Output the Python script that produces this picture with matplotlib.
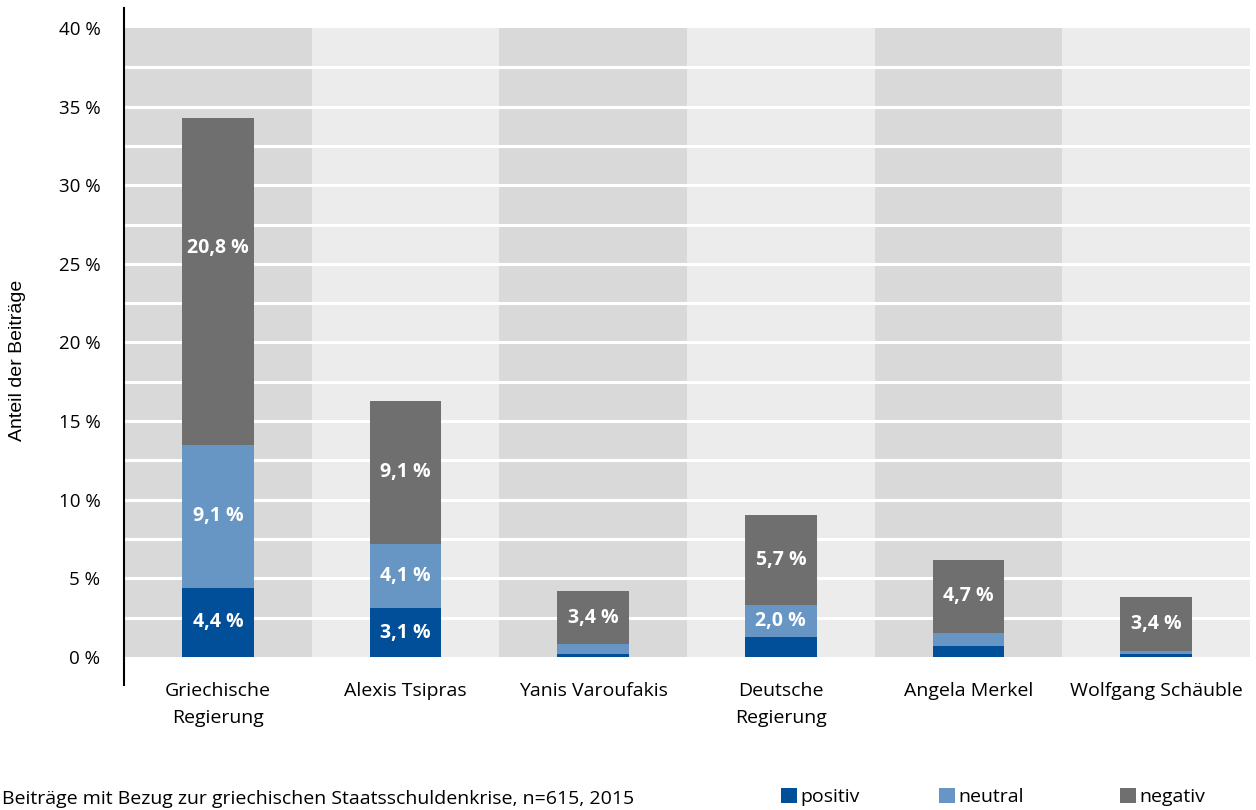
import matplotlib
matplotlib.use("Agg")
import matplotlib.pyplot as plt
import numpy as np

plt.rcParams['font.family'] = ['Open Sans', 'DejaVu Sans']

categories = ["Griechische\nRegierung", "Alexis Tsipras", "Yanis Varoufakis",
              "Deutsche\nRegierung", "Angela Merkel", "Wolfgang Schäuble"]
positiv = [4.4, 3.1, 0.2, 1.3, 0.7, 0.2]
neutral = [9.1, 4.1, 0.6, 2.0, 0.8, 0.2]
negativ = [20.8, 9.1, 3.4, 5.7, 4.7, 3.4]
series_names = ["positiv", "neutral", "negativ"]
series_colors = ["#004f98", "#6796c4", "#6f6f6f"]
yticks = [0, 5, 10, 15, 20, 25, 30, 35, 40]

fig = plt.figure(figsize=(12.56, 8.10), dpi=100)
ax = fig.add_axes([124/1256, 1 - 685/810, 1126/1256, 677/810])

x = np.arange(len(categories))
# alternating background bands
band_colors = ["#d9d9d9" if i % 2 == 0 else "#ececec" for i in x]
ax.bar(x, 40, width=1.0, bottom=0, color=band_colors, zorder=0)
ax.hlines(np.arange(2.5, 40, 2.5), -0.5, len(categories) - 0.5,
          colors="white", linewidth=2.2, zorder=1)

bars = []
bottom = np.zeros(len(categories))
for vals, name, col in zip([positiv, neutral, negativ], series_names, series_colors):
    vals = np.array(vals)
    bars.append(ax.bar(x, vals, width=0.383, bottom=bottom, color=col, zorder=2, label=name))
    for xi, b, v in zip(x, bottom, vals):
        if v >= 2.0:
            # the tall segment's label sits a bit above its middle
            ypos = b + v / 2 if v < 15 else b + v * 0.6
            ax.text(xi, ypos, f"{v:.1f}".replace(".", ",") + " %",
                    ha="center", va="center", color="white", fontsize=14,
                    fontweight="bold", zorder=3)
    bottom += vals

ax.set_xlim(-0.5, len(categories) - 0.5)
ax.set_ylim(-1.78, 41.27)
ax.set_yticks(yticks)
ax.set_yticklabels([f"{t} %" for t in yticks], fontsize=13.5)
ax.set_xticks(x)
ax.set_xticklabels(categories, fontsize=14, linespacing=1.6)
ax.tick_params(axis="y", length=0, pad=17)
ax.tick_params(axis="x", length=0, pad=-2)
ax.set_ylabel("Anteil der Beiträge", fontsize=14, family="Liberation Sans")
ax.yaxis.set_label_coords(-0.087, 0.479)

for s in ["top", "right", "bottom"]:
    ax.spines[s].set_visible(False)
ax.spines["left"].set_linewidth(1.5)
ax.spines["left"].set_color("black")

fig.text(2/1256, 1 - 799/810, "Beiträge mit Bezug zur griechischen Staatsschuldenkrise, n=615, 2015",
         fontsize=14, va="center", ha="left")

# legend entries placed one by one, as in the original
for bc, name, xpos in zip(bars, series_names, [781, 939, 1120]):
    fig.legend([bc], [name], loc="center left", bbox_to_anchor=(xpos/1256, 1 - 797/810),
               frameon=False, fontsize=14, handlelength=0.8, handleheight=0.8,
               handletextpad=0.2, borderpad=0, borderaxespad=0)

fig.savefig("out.png", dpi=100)
